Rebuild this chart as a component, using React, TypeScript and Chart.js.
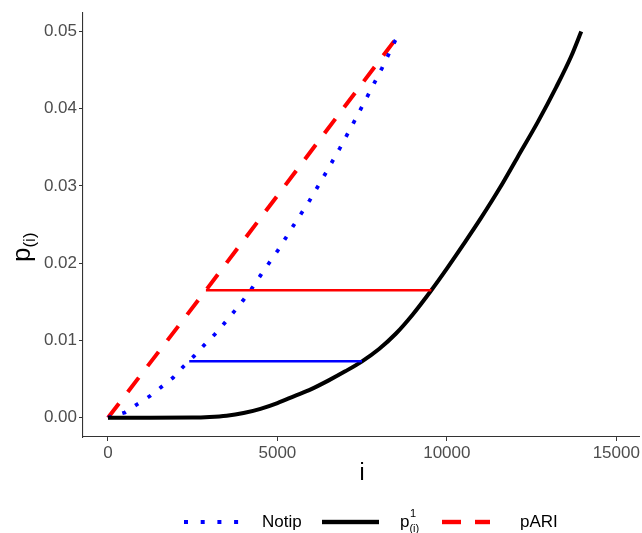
import React, { useEffect, useRef } from "react";
import { Chart, registerables } from "chart.js";
Chart.register(...registerables);

// Notip curve (dotted blue)
const notipI = [0, 501, 875, 1238, 1583, 1925, 2220, 2545, 2840, 3155, 3430, 3715, 3990, 4255, 4502, 5012, 5475, 5946, 6406, 6840, 7261, 7674, 8087, 8482, 8667];
const notipP = [0, 0.00068, 0.00177, 0.0028, 0.004, 0.0052, 0.0066, 0.008, 0.0094, 0.0108, 0.0122, 0.0137, 0.0152, 0.0168, 0.01843, 0.02165, 0.02487, 0.02809, 0.03152, 0.03487, 0.03831, 0.04175, 0.04527, 0.04888, 0.05];

// p^1_(i) curve (solid black)
const curveI = [0, 1238, 2500, 3000, 3500, 4000, 4500, 5000, 5500, 6000, 6500, 7000, 7497, 8000, 8500, 9000, 9543, 10000, 10500, 11000, 11557, 12096, 12686, 13228, 13670, 13966];
const curveP = [0, 0, 0.00001, 0.00008, 0.00025, 0.0006, 0.00115, 0.0019, 0.0028, 0.0037, 0.0048, 0.006, 0.0073, 0.0089, 0.0109, 0.0134, 0.0165, 0.0193, 0.0225, 0.0258, 0.0297, 0.0338, 0.0383, 0.0428, 0.0468, 0.05];

// pARI (dashed red)
const ariI = [0, 2890, 8659];
const ariP = [0, 0.0165, 0.05];

// horizontal segments
const segNotipI = [2398, 7497];
const segNotipP = 0.0073;
const segAriI = [2890, 9543];
const segAriP = 0.0165;

const xTicks = [0, 5000, 10000, 15000];
const yTicks = [0, 0.01, 0.02, 0.03, 0.04, 0.05];

const FONT = '"Liberation Sans", Arial, sans-serif';

const annot = {
  id: "annot",
  afterDraw(chart: any) {
    const c = chart.ctx as CanvasRenderingContext2D;
    c.save();
    c.fillStyle = "#000";
    // x title
    c.font = `23px ${FONT}`;
    c.textAlign = "center";
    c.textBaseline = "alphabetic";
    c.fillText("i", 362, 480);
    // y title
    c.save();
    c.translate(30, 262);
    c.rotate(-Math.PI / 2);
    c.textAlign = "left";
    c.font = `26px ${FONT}`;
    c.fillText("p", 0, 0);
    const pw = c.measureText("p").width;
    c.font = `17px ${FONT}`;
    c.fillText("(i)", pw, 5);
    c.restore();

    // legend
    c.textAlign = "left";
    const ly = 522;
    // Notip dotted
    c.fillStyle = "#0000FF";
    for (let k = 0; k < 4; k++) {
      c.fillRect(184 + k * 16.7, ly - 2, 4, 4);
    }
    c.fillStyle = "#000";
    c.font = `17px ${FONT}`;
    c.textBaseline = "middle";
    c.fillText("Notip", 262, ly);
    // black solid
    c.fillRect(322, ly - 2.2, 57, 4.4);
    c.font = `17px ${FONT}`;
    c.textBaseline = "alphabetic";
    c.fillText("p", 400, 527);
    const p2 = c.measureText("p").width;
    c.font = `11px ${FONT}`;
    c.fillText("1", 400 + p2 + 0.5, 517);
    c.fillText("(i)", 400 + p2, 532);
    // red dashed
    c.fillStyle = "#FF0000";
    c.fillRect(442, ly - 2.2, 19, 4.4);
    c.fillRect(475, ly - 2.2, 15, 4.4);
    c.fillStyle = "#000";
    c.font = `17px ${FONT}`;
    c.textBaseline = "middle";
    c.fillText("pARI", 520, ly);
    c.restore();
  },
};

const toPts = (xs: number[], ys: number[]) => xs.map((x, k) => ({ x, y: ys[k] }));

export default function App() {
  const ref = useRef<HTMLCanvasElement>(null);
  useEffect(() => {
    document.body.style.margin = "0";
    const chart = new Chart(ref.current!, {
      type: "line",
      data: {
        datasets: [
          {
            label: "segNotip",
            data: toPts(segNotipI, [segNotipP, segNotipP]),
            borderColor: "#0000FF",
            borderWidth: 2.5,
            pointRadius: 0,
          },
          {
            label: "segAri",
            data: toPts(segAriI, [segAriP, segAriP]),
            borderColor: "#FF0000",
            borderWidth: 2.5,
            pointRadius: 0,
          },
          {
            label: "p1",
            data: toPts(curveI, curveP),
            borderColor: "#000000",
            borderWidth: 4,
            pointRadius: 0,
            cubicInterpolationMode: "monotone",
          },
          {
            label: "Notip",
            data: toPts(notipI, notipP),
            borderColor: "#0000FF",
            borderWidth: 3.75,
            borderDash: [3.75, 11.25],
            borderCapStyle: "butt",
            pointRadius: 0,
          },
          {
            label: "pARI",
            data: toPts(ariI, ariP),
            borderColor: "#FF0000",
            borderWidth: 4,
            borderDash: [18, 14.5],
            borderCapStyle: "butt",
            pointRadius: 0,
          },
        ],
      },
      options: {
        responsive: false,
        animation: false,
        devicePixelRatio: 1,
        layout: { padding: { top: 9, right: 2, left: 0, bottom: 0 } },
        plugins: { legend: { display: false }, tooltip: { enabled: false } },
        scales: {
          x: {
            type: "linear",
            min: -737,
            max: 15684,
            afterFit: (s: any) => {
              s.height = 96;
            },
            afterBuildTicks: (s: any) => {
              s.ticks = xTicks.map((v) => ({ value: v }));
            },
            ticks: {
              color: "#4D4D4D",
              font: { family: FONT, size: 17 },
              padding: 2,
              maxRotation: 0,
              autoSkip: false,
              callback: (v: any) => String(v),
            },
            grid: { drawOnChartArea: false, drawTicks: true, tickLength: 4, color: "#333333", lineWidth: 1 },
            border: { display: true, color: "#333333", width: 1.1 },
          },
          y: {
            type: "linear",
            min: -0.0025,
            max: 0.0525,
            afterFit: (s: any) => {
              s.width = 83;
            },
            afterBuildTicks: (s: any) => {
              s.ticks = yTicks.map((v) => ({ value: v }));
            },
            ticks: {
              color: "#4D4D4D",
              font: { family: FONT, size: 17 },
              padding: 2,
              autoSkip: false,
              callback: (v: any) => Number(v).toFixed(2),
            },
            grid: { drawOnChartArea: false, drawTicks: true, tickLength: 4, color: "#333333", lineWidth: 1 },
            border: { display: true, color: "#333333", width: 1.1 },
          },
        },
      },
      plugins: [annot],
    } as any);
    return () => chart.destroy();
  }, []);
  return (
    <div style={{ width: 642, height: 533 }}>
      <canvas ref={ref} width={642} height={533} style={{ display: "block" }} />
    </div>
  );
}
